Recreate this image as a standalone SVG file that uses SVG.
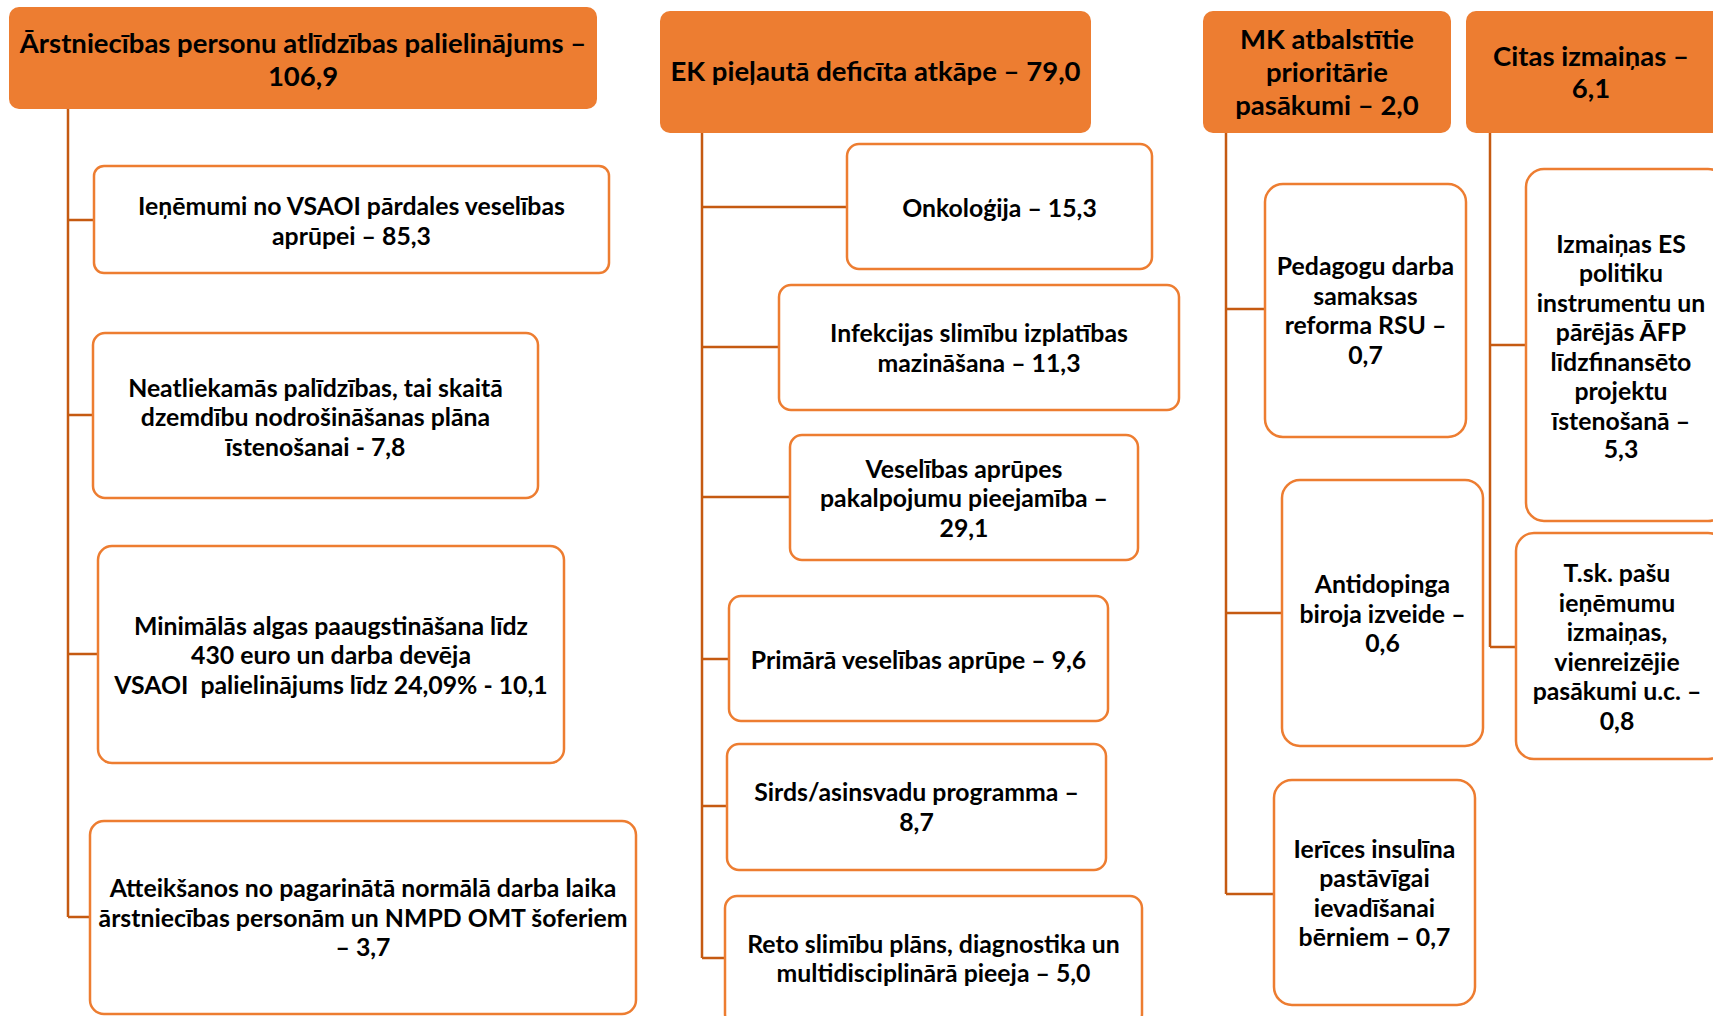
<svg xmlns="http://www.w3.org/2000/svg" width="1713" height="1016" viewBox="0 0 1713 1016">
<style>
.hdr{fill:#ED7D31;stroke:none}
.box{fill:#fff;stroke:#ED7D31;stroke-width:2.5}
.t{font-family:Lato,"Open Sans","Liberation Sans",sans-serif;font-weight:bold;font-size:24.8px;fill:#000;text-anchor:middle;dominant-baseline:central;white-space:pre}
.th{font-size:27.5px}
.c{fill:none;stroke:#C55A11;stroke-width:2.5}
</style>
<rect width="1713" height="1016" fill="#fff"/>
<g id="connectors">
<path class="c" d="M68 109V917M68 220H94M68 415H93M68 654H98M68 917H90"/>
<path class="c" d="M702 133V958M702 207H847M702 347H779M702 497H790M702 659H729M702 806H727M702 958H725"/>
<path class="c" d="M1226 133V894M1226 309H1265M1226 613H1282M1226 894H1274"/>
<path class="c" d="M1490 133V647M1490 345H1526M1490 647H1516"/>
</g>
<g id="h1"><rect class="hdr" x="9" y="7" width="588" height="102" rx="10"/>
<text class="t th" x="303"><tspan x="303" y="42">Ārstniecības personu atlīdzības palielinājums –</tspan><tspan x="303" y="75">106,9</tspan></text></g>
<g id="h2"><rect class="hdr" x="660" y="11" width="431" height="122" rx="10"/>
<text class="t th" x="875.5" y="70">EK pieļautā deficīta atkāpe – 79,0</text></g>
<g id="h3"><rect class="hdr" x="1203" y="11" width="248" height="122" rx="10"/>
<text class="t th"><tspan x="1327" y="38">MK atbalstītie</tspan><tspan x="1327" y="71">prioritārie</tspan><tspan x="1327" y="104">pasākumi – 2,0</tspan></text></g>
<g id="h4"><rect class="hdr" x="1466" y="11" width="260" height="122" rx="10"/>
<text class="t th"><tspan x="1591" y="55">Citas izmaiņas –</tspan><tspan x="1591" y="87">6,1</tspan></text></g>

<g id="n1"><rect class="box" x="94" y="166" width="515" height="107" rx="10"/>
<text class="t"><tspan x="351.5" y="205">Ieņēmumi no VSAOI pārdales veselības</tspan><tspan x="351.5" y="235">aprūpei – 85,3</tspan></text></g>
<g id="n2"><rect class="box" x="93" y="333" width="445" height="165" rx="12"/>
<text class="t"><tspan x="315.5" y="387">Neatliekamās palīdzības, tai skaitā</tspan><tspan x="315.5" y="416">dzemdību nodrošināšanas plāna</tspan><tspan x="315.5" y="446">īstenošanai - 7,8</tspan></text></g>
<g id="n3"><rect class="box" x="98" y="546" width="466" height="217" rx="14"/>
<text class="t"><tspan x="331" y="625">Minimālās algas paaugstināšana līdz</tspan><tspan x="331" y="654">430 euro un darba devēja</tspan><tspan x="331" y="684">VSAOI  palielinājums līdz 24,09% - 10,1</tspan></text></g>
<g id="n4"><rect class="box" x="90" y="821" width="546" height="193" rx="14"/>
<text class="t"><tspan x="363" y="887">Atteikšanos no pagarinātā normālā darba laika</tspan><tspan x="363" y="917">ārstniecības personām un NMPD OMT šoferiem</tspan><tspan x="363" y="946">– 3,7</tspan></text></g>

<g id="n5"><rect class="box" x="847" y="144" width="305" height="125" rx="12"/>
<text class="t" x="999.5" y="207">Onkoloģija – 15,3</text></g>
<g id="n6"><rect class="box" x="779" y="285" width="400" height="125" rx="12"/>
<text class="t"><tspan x="979" y="332">Infekcijas slimību izplatības</tspan><tspan x="979" y="362">mazināšana – 11,3</tspan></text></g>
<g id="n7"><rect class="box" x="790" y="435" width="348" height="125" rx="12"/>
<text class="t"><tspan x="964" y="468">Veselības aprūpes</tspan><tspan x="964" y="497">pakalpojumu pieejamība –</tspan><tspan x="964" y="527">29,1</tspan></text></g>
<g id="n8"><rect class="box" x="729" y="596" width="379" height="125" rx="12"/>
<text class="t" x="918.5" y="659">Primārā veselības aprūpe – 9,6</text></g>
<g id="n9"><rect class="box" x="727" y="744" width="379" height="126" rx="12"/>
<text class="t"><tspan x="916.5" y="791">Sirds/asinsvadu programma –</tspan><tspan x="916.5" y="821">8,7</tspan></text></g>
<g id="n10"><rect class="box" x="725" y="896" width="417" height="130" rx="12"/>
<text class="t"><tspan x="933.5" y="943">Reto slimību plāns, diagnostika un</tspan><tspan x="933.5" y="972">multidisciplinārā pieeja – 5,0</tspan></text></g>

<g id="n11"><rect class="box" x="1265" y="184" width="201" height="253" rx="18"/>
<text class="t"><tspan x="1365.5" y="265">Pedagogu darba</tspan><tspan x="1365.5" y="295">samaksas</tspan><tspan x="1365.5" y="324">reforma RSU –</tspan><tspan x="1365.5" y="354">0,7</tspan></text></g>
<g id="n12"><rect class="box" x="1282" y="480" width="201" height="266" rx="18"/>
<text class="t"><tspan x="1382.5" y="583">Antidopinga</tspan><tspan x="1382.5" y="613">biroja izveide –</tspan><tspan x="1382.5" y="642">0,6</tspan></text></g>
<g id="n13"><rect class="box" x="1274" y="780" width="201" height="225" rx="18"/>
<text class="t"><tspan x="1374.5" y="848">Ierīces insulīna</tspan><tspan x="1374.5" y="877">pastāvīgai</tspan><tspan x="1374.5" y="907">ievadīšanai</tspan><tspan x="1374.5" y="936">bērniem – 0,7</tspan></text></g>

<g id="n14"><rect class="box" x="1526" y="169" width="200" height="352" rx="18"/>
<text class="t"><tspan x="1621" y="243">Izmaiņas ES</tspan><tspan x="1621" y="272">politiku</tspan><tspan x="1621" y="302">instrumentu un</tspan><tspan x="1621" y="331">pārējās ĀFP</tspan><tspan x="1621" y="361">līdzfinansēto</tspan><tspan x="1621" y="390">projektu</tspan><tspan x="1621" y="420">īstenošanā –</tspan><tspan x="1621" y="448">5,3</tspan></text></g>
<g id="n15"><rect class="box" x="1516" y="533" width="210" height="226" rx="18"/>
<text class="t"><tspan x="1617" y="572">T.sk. pašu</tspan><tspan x="1617" y="602">ieņēmumu</tspan><tspan x="1617" y="631">izmaiņas,</tspan><tspan x="1617" y="661">vienreizējie</tspan><tspan x="1617" y="690">pasākumi u.c. –</tspan><tspan x="1617" y="720">0,8</tspan></text></g>
</svg>
